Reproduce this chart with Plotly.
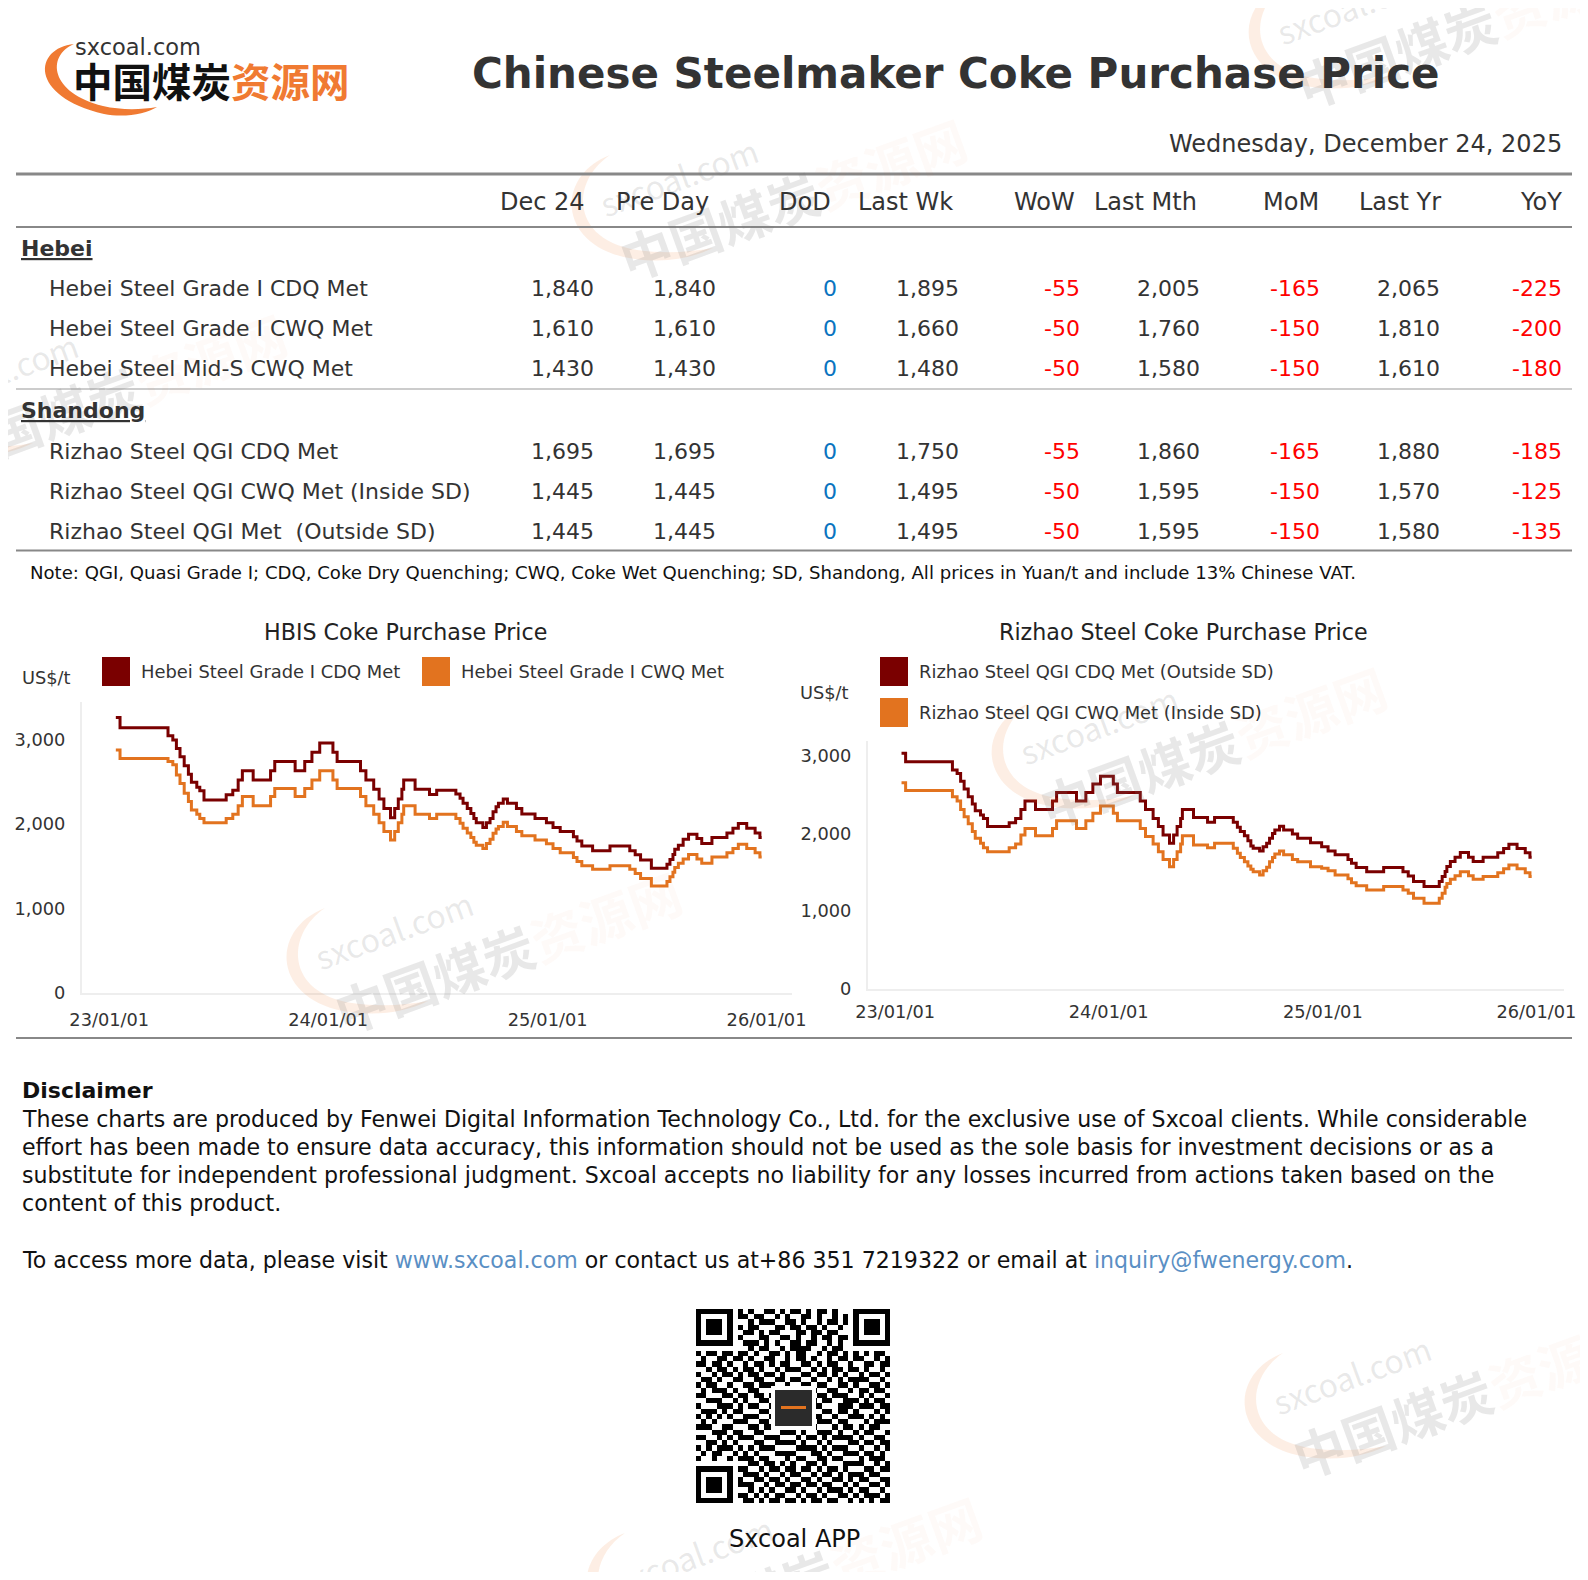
import plotly.graph_objects as go

# ---------------- page geometry (browser body margin compensated) ----------------
W, H, OFF = 1572, 1564, 8


def X(px):
    return (px - OFF) / W


def Y(py):
    return 1 - (py - OFF) / H


# ---------------- table data ----------------
columns = ["Dec 24", "Pre Day", "DoD", "Last Wk", "WoW", "Last Mth", "MoM", "Last Yr", "YoY"]
groups = ["Hebei", "Shandong"]
row_names = [
    "Hebei Steel Grade I CDQ Met",
    "Hebei Steel Grade I CWQ Met",
    "Hebei Steel Mid-S CWQ Met",
    "Rizhao Steel QGI CDQ Met",
    "Rizhao Steel QGI CWQ Met (Inside SD)",
    "Rizhao Steel QGI Met  (Outside SD)",
]
dec24 = [1840, 1610, 1430, 1695, 1445, 1445]
pre_day = [1840, 1610, 1430, 1695, 1445, 1445]
dod = [0, 0, 0, 0, 0, 0]
last_wk = [1895, 1660, 1480, 1750, 1495, 1495]
wow = [-55, -50, -50, -55, -50, -50]
last_mth = [2005, 1760, 1580, 1860, 1595, 1595]
mom = [-165, -150, -150, -165, -150, -150]
last_yr = [2065, 1810, 1610, 1880, 1570, 1580]
yoy = [-225, -200, -180, -185, -125, -135]

# ---------------- chart data (step changes) ----------------
dates = [
    "2023-01-12", "2023-01-19", "2023-04-09", "2023-04-17", "2023-04-23", "2023-04-29",
    "2023-05-06", "2023-05-13", "2023-05-18", "2023-05-27", "2023-06-01", "2023-06-08",
    "2023-07-15", "2023-07-26", "2023-08-04", "2023-08-11", "2023-08-29", "2023-09-27",
    "2023-10-04", "2023-11-07", "2023-11-23", "2023-12-05", "2023-12-18", "2024-01-09",
    "2024-01-16", "2024-02-24", "2024-03-04", "2024-03-17", "2024-03-26", "2024-04-03",
    "2024-04-14", "2024-04-21", "2024-04-27", "2024-05-03", "2024-05-06", "2024-05-25",
    "2024-06-18", "2024-06-30", "2024-08-01", "2024-08-08", "2024-08-13", "2024-08-20",
    "2024-08-26", "2024-08-31", "2024-09-04", "2024-09-15", "2024-09-21", "2024-09-27",
    "2024-10-02", "2024-10-07", "2024-10-11", "2024-10-19", "2024-10-26", "2024-11-10",
    "2024-11-19", "2024-12-11", "2024-12-30", "2025-01-10", "2025-01-22", "2025-02-13",
    "2025-02-19", "2025-02-27", "2025-03-17", "2025-04-15", "2025-05-18", "2025-05-27",
    "2025-06-05", "2025-06-23", "2025-07-19", "2025-07-24", "2025-07-29", "2025-08-01",
    "2025-08-07", "2025-08-15", "2025-08-24", "2025-09-07", "2025-09-15", "2025-10-02",
    "2025-10-27", "2025-11-06", "2025-11-15", "2025-11-29", "2025-12-13", "2025-12-21",
    "2025-12-24",
]
hebei_cdq = [
    3260, 3140, 3045, 2995, 2895, 2795, 2690, 2590, 2495, 2435, 2395, 2285,
    2345, 2400, 2520, 2630, 2520, 2630, 2740, 2630, 2740, 2850, 2960, 2850,
    2740, 2630, 2520, 2410, 2295, 2185, 2075, 2185, 2295, 2410, 2520, 2410,
    2350, 2400, 2355, 2305, 2245, 2185, 2125, 2065, 2015, 1960, 2015, 2065,
    2145, 2205, 2245, 2295, 2245, 2185, 2120, 2065, 2015, 1960, 1910, 1850,
    1800, 1740, 1685, 1740, 1685, 1635, 1575, 1475, 1525, 1580, 1640, 1700,
    1750, 1820, 1880, 1830, 1770, 1840, 1895, 1950, 2005, 1950, 1895, 1840,
    1840,
]
hebei_cwq = [
    2875, 2775, 2740, 2700, 2580, 2480, 2365, 2265, 2165, 2115, 2065, 2015,
    2065, 2115, 2215, 2325, 2215, 2325, 2420, 2325, 2420, 2520, 2630, 2520,
    2420, 2325, 2215, 2115, 2015, 1910, 1810, 1910, 2015, 2115, 2215, 2115,
    2065, 2115, 2065, 2010, 1950, 1895, 1840, 1785, 1750, 1710, 1770, 1820,
    1890, 1940, 1970, 2020, 1970, 1910, 1860, 1810, 1765, 1710, 1660, 1605,
    1555, 1505, 1465, 1505, 1465, 1415, 1355, 1265, 1320, 1375, 1430, 1485,
    1535, 1585, 1640, 1585, 1535, 1610, 1660, 1710, 1760, 1710, 1660, 1610,
    1610,
]
rizhao_cdq = [
    3035, 2925, 2820, 2775, 2675, 2575, 2475, 2380, 2295, 2240, 2195, 2090,
    2140, 2195, 2310, 2420, 2310, 2420, 2530, 2420, 2530, 2640, 2740, 2640,
    2530, 2420, 2310, 2195, 2090, 1980, 1875, 1980, 2090, 2195, 2310, 2205,
    2145, 2205, 2145, 2080, 2025, 1970, 1905, 1840, 1810, 1775, 1830, 1875,
    1940, 2000, 2045, 2095, 2045, 1995, 1940, 1880, 1830, 1775, 1725, 1665,
    1615, 1560, 1505, 1560, 1505, 1450, 1380, 1315, 1380, 1445, 1510, 1575,
    1640, 1695, 1755, 1695, 1640, 1695, 1750, 1805, 1860, 1805, 1750, 1695,
    1695,
]
rizhao_cwq = [
    2655, 2555, 2475, 2420, 2310, 2215, 2125, 2025, 1940, 1875, 1815, 1765,
    1815, 1865, 1980, 2065, 1970, 2065, 2165, 2065, 2165, 2260, 2355, 2260,
    2165, 2065, 1960, 1865, 1765, 1665, 1570, 1665, 1765, 1865, 1970, 1850,
    1815, 1875, 1810, 1745, 1690, 1635, 1580, 1540, 1505, 1465, 1520, 1565,
    1635, 1690, 1735, 1775, 1725, 1665, 1635, 1570, 1550, 1520, 1465, 1415,
    1365, 1325, 1270, 1315, 1270, 1230, 1165, 1100, 1165, 1230, 1305, 1355,
    1410, 1455, 1505, 1455, 1410, 1445, 1495, 1545, 1595, 1545, 1495, 1445,
    1445,
]
x_tick_dates = ["2023-01-01", "2024-01-01", "2025-01-01", "2026-01-01"]
x_tick_text = ["23/01/01", "24/01/01", "25/01/01", "26/01/01"]
y_ticks = [0, 1000, 2000, 3000]

left_title = "HBIS Coke Purchase Price"
right_title = "Rizhao Steel Coke Purchase Price"
left_names = ["Hebei Steel Grade I CDQ Met", "Hebei Steel Grade I CWQ Met"]
right_names = ["Rizhao Steel QGI CDQ Met (Outside SD)", "Rizhao Steel QGI CWQ Met (Inside SD)"]

# QR-code decoration modules (37 x 37)
QR_ROWS = [
    "1011001110" "1001101011" "0101101001" "1011010",
    "0110100011" "0110010100" "1101001011" "0100110",
    "1100110100" "1011100110" "1001011010" "1101001",
    "0011011010" "1100011011" "0110100101" "0010111",
    "1001100101" "1010110001" "1011011001" "1101100",
    "0110011110" "0011001101" "0010110110" "1010011",
    "1101010001" "1101010011" "0110010101" "0111001",
    "0010110100" "1011001011" "1100101100" "1001101",
    "1011011011" "0100110101" "1001011010" "1010110",
    "0100110110" "1001100101" "1010010110" "1100101",
    "1101101001" "0110101100" "1101011001" "0011011",
    "0010110101" "1010010111" "0010101101" "1010010",
    "1001011010" "1101101000" "1101101010" "0101101",
    "0110100110" "0110011011" "0010010101" "1110010",
    "1011001001" "1011100100" "1101100110" "1001101",
    "0101110100" "1100011011" "1010011001" "0110110",
    "1100011011" "0110100110" "0101101110" "0101001",
    "0011100101" "0011011001" "1010110011" "1010110",
    "1000111010" "1100110111" "0011000111" "0111011",
    "0111010110" "0011001011" "1000110110" "1000101",
    "1010101001" "1100110101" "0111001001" "1101010",
    "0101000111" "0011001100" "1001110110" "0010111",
    "1110011000" "1101110011" "0110001011" "0101100",
    "0001110110" "0110001110" "1001110100" "1011001",
    "1100101011" "1001110001" "0110101111" "0100110",
    "0011010100" "0110011110" "1001010001" "1011011",
    "1010111010" "1011100001" "1110101110" "0100101",
    "0101100101" "0100011110" "0011010011" "1011010",
    "1001001011" "1011000101" "1001101100" "0101110",
    "0110110100" "1101101010" "0110100011" "1100101",
    "1011010011" "0010110110" "1101011010" "0011011",
    "0100101101" "1101001011" "0010110101" "1101100",
    "1101100110" "0110110100" "1101001101" "0110011",
    "0010011011" "1001011011" "0110110010" "1001101",
    "1101101100" "1010100110" "1001011101" "0110010",
    "0110010111" "0101011001" "0110100110" "1011101",
    "1001101001" "1010110110" "1011011001" "0101011",
]

# ---------------- styles ----------------
DARK = "#7a0000"
ORANGE = "#e2731f"
TXT = "#333333"
FONT = "DejaVu Sans, Noto Sans CJK SC"
CJK = "Noto Sans CJK SC, DejaVu Sans"

fig = go.Figure()

# ---------------- line charts ----------------
for vals, col, xa, ya in [
    (hebei_cdq, DARK, "x", "y"),
    (hebei_cwq, ORANGE, "x", "y"),
    (rizhao_cdq, DARK, "x2", "y2"),
    (rizhao_cwq, ORANGE, "x2", "y2"),
]:
    fig.add_trace(go.Scatter(
        x=dates, y=vals, mode="lines", xaxis=xa, yaxis=ya,
        line=dict(color=col, width=3, shape="hv"),
        showlegend=False, hoverinfo="skip",
    ))

# ---------------- QR heatmap ----------------
n = len(QR_ROWS)
grid = [[int(c) for c in r] for r in QR_ROWS]


def stamp_finder(r0, c0):
    for i in range(-1, 8):
        for j in range(-1, 8):
            r, c = r0 + i, c0 + j
            if 0 <= r < n and 0 <= c < n:
                if i in (-1, 7) or j in (-1, 7):
                    grid[r][c] = 0
                elif i in (0, 6) or j in (0, 6):
                    grid[r][c] = 1
                elif 2 <= i <= 4 and 2 <= j <= 4:
                    grid[r][c] = 1
                else:
                    grid[r][c] = 0


stamp_finder(0, 0)
stamp_finder(0, n - 7)
stamp_finder(n - 7, 0)

fig.add_trace(go.Heatmap(
    z=grid, xaxis="x3", yaxis="y3", colorscale=[[0, "white"], [1, "black"]],
    zmin=0, zmax=1, showscale=False, hoverinfo="skip",
))

axis_common = dict(showgrid=False, zeroline=False, showline=True, linecolor="#eeeeee",
                   linewidth=2, ticks="outside", tickcolor="rgba(0,0,0,0)",
                   automargin=False,
                   tickfont=dict(family=FONT, size=17.8, color=TXT), fixedrange=True)

fig.update_layout(
    width=W, height=H, margin=dict(l=0, r=0, t=0, b=0, autoexpand=False),
    paper_bgcolor="white", plot_bgcolor="white",
    xaxis=dict(domain=[X(82), X(792)], anchor="y", type="date",
               range=["2022-11-16 14:00", "2026-02-12 12:00"],
               tickvals=x_tick_dates, ticktext=x_tick_text, ticklen=10, **axis_common),
    yaxis=dict(domain=[Y(993), Y(701.5)], anchor="x", range=[0, 3450],
               tickvals=y_ticks, tickformat=",d", ticklen=11, **axis_common),
    xaxis2=dict(domain=[X(868), X(1564)], anchor="y2", type="date",
                range=["2022-11-15 17:00", "2026-02-17 05:00"],
                tickvals=x_tick_dates, ticktext=x_tick_text, ticklen=6, **axis_common),
    yaxis2=dict(domain=[Y(988.5), Y(740.5)], anchor="x2", range=[0, 3200],
                tickvals=y_ticks, tickformat=",d", ticklen=11, **axis_common),
    xaxis3=dict(domain=[X(696), X(890)], anchor="y3", visible=False, range=[-0.5, n - 0.5],
                fixedrange=True, automargin=False),
    yaxis3=dict(domain=[Y(1503), Y(1309)], anchor="x3", visible=False,
                range=[n - 0.5, -0.5], fixedrange=True, automargin=False),
)

shapes = []
annotations = []


def hline(x0, x1, y, w, color):
    shapes.append(dict(type="line", xref="paper", yref="paper", x0=X(x0), x1=X(x1),
                       y0=Y(y), y1=Y(y), line=dict(color=color, width=w)))


def rect(x0, y0, x1, y1, color):
    shapes.append(dict(type="rect", xref="paper", yref="paper", x0=X(x0), x1=X(x1),
                       y0=Y(y0), y1=Y(y1), fillcolor=color, line=dict(width=0)))


def text(x, y, s, size, color=TXT, anchor="left", family=FONT, angle=0, valign="middle"):
    annotations.append(dict(xref="paper", yref="paper", x=X(x), y=Y(y), text=s,
                            showarrow=False, xanchor=anchor, yanchor=valign,
                            textangle=angle, borderpad=0, borderwidth=0,
                            font=dict(family=family, size=size, color=color)))


def path(points_cmds, color, opacity=1.0, layer="above"):
    d = ""
    for cmd, pts in points_cmds:
        d += cmd + " " + " ".join(f"{X(px):.5f},{Y(py):.5f}" for px, py in pts) + " "
    shapes.append(dict(type="path", xref="paper", yref="paper", path=d + "Z",
                       fillcolor=color, line=dict(width=0), opacity=opacity, layer=layer))


# ---------------- watermarks ----------------
def watermark(cx, cy, size=52):
    s = (f"<span style='font-size:{int(size*0.62)}px'>sxcoal.com</span><br>"
         f"<b>中国煤炭<span style='color:rgba(240,120,50,0.20)'>资源网</span></b>")
    annotations.append(dict(xref="paper", yref="paper", x=X(cx), y=Y(cy), text=s,
                            showarrow=False, xanchor="center", yanchor="middle",
                            textangle=-20, align="left",
                            font=dict(family=CJK, size=size, color="rgba(120,120,120,0.17)")))
    rel = [("M", [(-175, -22)]),
           ("C", [(-232, 0), (-227, 72), (-150, 82)]),
           ("C", [(-120, 86), (-95, 82), (-72, 71)]),
           ("C", [(-95, 75), (-120, 77), (-148, 73)]),
           ("C", [(-214, 63), (-215, 5), (-175, -22)])]
    path([(c, [(cx + a, cy + b) for a, b in pts]) for c, pts in rel],
         "rgb(240,120,50)", opacity=0.13)


for cx, cy in [(1462, 5), (785, 177), (105, 372), (500, 930), (1205, 725),
               (1458, 1375), (800, 1555)]:
    watermark(cx, cy)

# ---------------- logo ----------------
path([("M", [(74, 44)]), ("C", [(34, 48), (28, 96), (104, 114)]),
      ("C", [(124, 118), (146, 114), (157, 107)]),
      ("C", [(140, 110), (120, 110), (103, 106)]),
      ("C", [(50, 93), (46, 56), (74, 44)])], "#f07a32")
text(75, 47, "sxcoal.com", 22.5, "#333333", family="DejaVu Sans")
text(73, 79, "<b>中国煤炭<span style='color:#f07a32'>资源网</span></b>", 39.5, "#111111",
     family=CJK)

# ---------------- header ----------------
text(956, 73, "<b>Chinese Steelmaker Coke Purchase Price</b>", 42, TXT, anchor="center")
text(1562, 144, "Wednesday, December 24, 2025", 24, TXT, anchor="right")

# ---------------- table ----------------
hline(16, 1572, 174, 3, "#888888")
hline(16, 1572, 227, 2, "#888888")
hline(16, 1572, 389, 2, "#cccccc")
hline(16, 1572, 550.5, 2, "#888888")

header_right = [585, 709, 831, 953, 1075, 1197, 1319, 1441, 1562]
value_right = [594, 716, 837, 959, 1080, 1200, 1320, 1440, 1562]
for c, hr in zip(columns, header_right):
    text(hr, 201.5, c, 24, TXT, anchor="right")

group_y = [248.3, 410.5]
row_y = [288.5, 328.5, 368.5, 451, 491, 531]
for g, gy in zip(groups, group_y):
    text(21, gy, f"<b><u>{g}</u></b>", 22, TXT)


def fmt(v):
    return f"{v:,}"


def chg_color(v):
    if v < 0:
        return "#ff0000"
    if v > 0:
        return "#00a000"
    return "#0a74c0"


for i, name in enumerate(row_names):
    yv = row_y[i]
    text(48.5, yv, name, 22, TXT)
    vals = [dec24[i], pre_day[i], dod[i], last_wk[i], wow[i], last_mth[i], mom[i],
            last_yr[i], yoy[i]]
    is_chg = [False, False, True, False, True, False, True, False, True]
    for v, xr, ch in zip(vals, value_right, is_chg):
        text(xr, yv, fmt(v), 22, chg_color(v) if ch else TXT, anchor="right")

text(29.5, 572, "Note: QGI, Quasi Grade I; CDQ, Coke Dry Quenching; CWQ, Coke Wet Quenching; "
     "SD, Shandong, All prices in Yuan/t and include 13% Chinese VAT.", 18.1, "#111111")

# ---------------- chart titles & legends ----------------
text(405, 632, left_title, 22.2, "#222222", anchor="center")
text(1183, 632, right_title, 22.2, "#222222", anchor="center")

rect(102, 657, 130, 686, DARK)
text(141, 671.5, left_names[0], 17.9, TXT)
rect(422, 657, 450, 686, ORANGE)
text(461, 671.5, left_names[1], 17.9, TXT)

rect(880, 657, 908, 686, DARK)
text(919, 671.5, right_names[0], 17.9, TXT)
rect(880, 698, 908, 727, ORANGE)
text(919, 712, right_names[1], 17.9, TXT)

text(22, 677.5, "US$/t", 17.8, TXT)
text(800, 692, "US$/t", 17.8, TXT)

hline(16, 1572, 1038, 2, "#888888")

# ---------------- disclaimer ----------------
text(22, 1090.5, "<b>Disclaimer</b>", 22, "#111111")
disc_lines = [
    "These charts are produced by Fenwei Digital Information Technology Co., Ltd. for the "
    "exclusive use of Sxcoal clients. While considerable",
    "effort has been made to ensure data accuracy, this information should not be used as "
    "the sole basis for investment decisions or as a",
    "substitute for independent professional judgment. Sxcoal accepts no liability for any "
    "losses incurred from actions taken based on the",
    "content of this product.",
]
for k, line in enumerate(disc_lines):
    text(22, 1119.3 + k * 27.8, line, 22.1, "#111111")
LINK = "#5a8fc4"
text(22, 1260, f"To access more data, please visit <span style='color:{LINK}'>www.sxcoal.com</span>"
     f" or contact us at+86 351 7219322 or email at "
     f"<span style='color:{LINK}'>inquiry@fwenergy.com</span>.", 22.1, "#111111")

# QR centre logo
rect(771, 1386, 816, 1430, "white")
rect(775, 1390, 812, 1426, "#2b2b2b")
rect(781, 1406, 806, 1409, "#e2731f")
text(794, 1539, "Sxcoal APP", 24, "#111111", anchor="center")

fig.update_layout(shapes=shapes, annotations=annotations)
fig.write_html("out.html")
